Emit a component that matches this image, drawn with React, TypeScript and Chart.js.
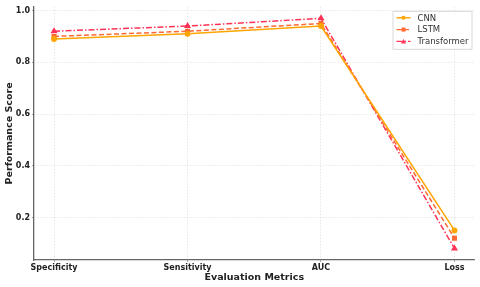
import React, { useEffect, useRef } from "react";
import { Chart, registerables } from "chart.js";

Chart.register(...registerables);

const categories = ["Specificity", "Sensitivity", "AUC", "Loss"];
const cnnValues = [0.89, 0.91, 0.94, 0.15];
const lstmValues = [0.9, 0.92, 0.95, 0.12];
const transformerValues = [0.92, 0.94, 0.97, 0.08];
const yTickValues = [0.2, 0.4, 0.6, 0.8, 1.0];

const FONT = "'DejaVu Sans', sans-serif";

const legendPlugin = {
  id: "boxLegend",
  afterDraw(chart: any) {
    const ctx = chart.ctx;
    const ca = chart.chartArea;
    const w = 79;
    const h = 38;
    const x0 = ca.right - 3 - w;
    const y0 = ca.top + 4;
    ctx.save();
    ctx.fillStyle = "rgba(255,255,255,0.85)";
    ctx.strokeStyle = "#d8d8d8";
    ctx.lineWidth = 1;
    ctx.beginPath();
    ctx.rect(x0 + 0.5, y0 + 0.5, w, h);
    ctx.fill();
    ctx.stroke();
    chart.data.datasets.forEach((ds: any, i: number) => {
      const cy = y0 + 7 + i * 11.8;
      ctx.strokeStyle = ds.borderColor;
      ctx.lineWidth = 1.4;
      ctx.setLineDash(ds.borderDash || []);
      ctx.beginPath();
      ctx.moveTo(x0 + 4, cy);
      ctx.lineTo(x0 + 18, cy);
      ctx.stroke();
      ctx.setLineDash([]);
      ctx.fillStyle = ds.borderColor;
      const mx = x0 + 11;
      ctx.beginPath();
      if (ds.pointStyle === "rect") {
        ctx.rect(mx - 2, cy - 2, 4, 4);
      } else if (ds.pointStyle === "triangle") {
        ctx.moveTo(mx, cy - 2.5);
        ctx.lineTo(mx + 2.5, cy + 2);
        ctx.lineTo(mx - 2.5, cy + 2);
        ctx.closePath();
      } else {
        ctx.arc(mx, cy, 2, 0, Math.PI * 2);
      }
      ctx.fill();
      ctx.fillStyle = "#333";
      ctx.font = `8.5px ${FONT}`;
      ctx.textBaseline = "middle";
      ctx.textAlign = "left";
      ctx.fillText(ds.label, x0 + 25, cy + 0.5);
    });
    ctx.restore();
  },
};

export default function App() {
  const ref = useRef<HTMLCanvasElement | null>(null);

  useEffect(() => {
    document.body.style.margin = "0";
    if (!ref.current) return;
    const toPts = (arr: number[]) => arr.map((v, i) => ({ x: i, y: v }));
    const chart = new Chart(ref.current, {
      type: "line",
      data: {
        datasets: [
          {
            label: "CNN",
            data: toPts(cnnValues),
            borderColor: "#ffa500",
            backgroundColor: "#ffa500",
            borderWidth: 1.5,
            pointStyle: "circle",
            pointRadius: 2.2,
            borderDash: [],
          },
          {
            label: "LSTM",
            data: toPts(lstmValues),
            borderColor: "#ff6a33",
            backgroundColor: "#ff6a33",
            borderWidth: 1.5,
            pointStyle: "rect",
            pointRadius: 2.5,
            borderDash: [5, 2.5],
          },
          {
            label: "Transformer",
            data: toPts(transformerValues),
            borderColor: "#ff3358",
            backgroundColor: "#ff3358",
            borderWidth: 1.5,
            pointStyle: "triangle",
            pointRadius: 2.6,
            borderDash: [6, 2, 1.5, 2],
          },
        ],
      },
      options: {
        animation: false,
        responsive: false,
        layout: { padding: { top: 4, right: 5, left: 0, bottom: 0 } },
        plugins: { legend: { display: false }, tooltip: { enabled: false } },
        scales: {
          x: {
            type: "linear",
            min: -0.15,
            max: 3.15,
            afterBuildTicks: (s: any) => {
              s.ticks = categories.map((_, i) => ({ value: i }));
            },
            afterFit: (s: any) => {
              s.height = 27;
            },
            ticks: {
              callback: (v: any) => categories[v] ?? "",
              font: { family: FONT, size: 8, weight: "bold" },
              color: "#222",
              padding: 1,
              maxRotation: 0,
              autoSkip: false,
            },
            grid: {
              color: "#e2e2e2",
              lineWidth: 0.8,
              drawTicks: true,
              tickLength: 2,
              tickColor: "#888",
            },
            border: { color: "#666", width: 1.3, dash: [1.5, 1.5] },
            title: {
              display: true,
              text: "Evaluation Metrics",
              font: { family: FONT, size: 9.5, weight: "bold" },
              color: "#222",
              padding: { top: 0, bottom: 4 },
            },
          },
          y: {
            min: 0.0355,
            max: 1.0145,
            afterBuildTicks: (s: any) => {
              s.ticks = yTickValues.map((v) => ({ value: v }));
            },
            afterFit: (s: any) => {
              s.width = 34;
            },
            ticks: {
              callback: (v: any) => Number(v).toFixed(1),
              font: { family: FONT, size: 8, weight: "bold" },
              color: "#222",
              padding: 2,
            },
            grid: {
              color: "#e2e2e2",
              lineWidth: 0.8,
              drawTicks: true,
              tickLength: 2,
              tickColor: "#888",
            },
            border: { color: "#666", width: 1.3, dash: [1.5, 1.5] },
            title: {
              display: true,
              text: "Performance Score",
              font: { family: FONT, size: 9.5, weight: "bold" },
              color: "#222",
              padding: { top: 4, bottom: 2 },
            },
          },
        },
      },
      plugins: [legendPlugin],
    } as any);
    return () => chart.destroy();
  }, []);

  return <canvas ref={ref} width={480} height={287} style={{ display: "block" }} />;
}
